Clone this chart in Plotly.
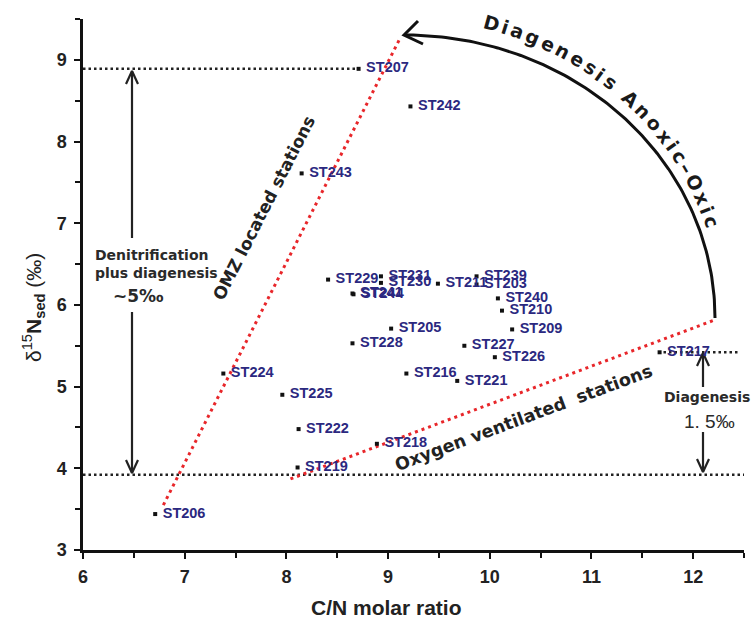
import numpy as np
import plotly.graph_objects as go

# ---------------- data ----------------
stations = ["ST207", "ST242", "ST243", "ST229", "ST231", "ST230", "ST241", "ST244",
            "ST211", "ST203", "ST239", "ST240", "ST210", "ST209", "ST205", "ST228",
            "ST227", "ST226", "ST216", "ST221", "ST224", "ST225", "ST222", "ST218",
            "ST219", "ST206", "ST217"]
cn_ratio = [8.71, 9.22, 8.15, 8.41, 8.93, 8.93, 8.65, 8.66,
            9.49, 9.87, 9.87, 10.08, 10.12, 10.22, 9.03, 8.65,
            9.75, 10.05, 9.18, 9.68, 7.38, 7.96, 8.12, 8.89,
            8.11, 6.71, 11.67]
d15n = [8.89, 8.43, 7.61, 6.31, 6.35, 6.27, 6.14, 6.13,
        6.26, 6.25, 6.35, 6.08, 5.93, 5.70, 5.71, 5.53,
        5.50, 5.36, 5.16, 5.07, 5.16, 4.90, 4.48, 4.30,
        4.01, 3.44, 5.42]

x_ticks = [6, 7, 8, 9, 10, 11, 12]
y_ticks = [3, 4, 5, 6, 7, 8, 9]

# reference levels
upper_level = 8.89
lower_level = 3.92
st217_level = 5.42
omz_line_x = [6.79, 9.12]
omz_line_y = [3.55, 9.27]
oxy_line_x = [8.04, 12.20]
oxy_line_y = [3.87, 5.81]

# ---------------- layout geometry ----------------
W, H = 755, 636
ML, MR, MT, MB = 83, 11, 19, 86
XR = [6, 12.5]
YR = [3, 9.5]
PW, PH = W - ML - MR, H - MT - MB


def px2x(px):
    return XR[0] + (px - ML) / PW * (XR[1] - XR[0])


def px2y(py):
    return YR[0] + (H - MB - py) / PH * (YR[1] - YR[0])


LABEL_COLOR = "#2b2880"
TXT = "#1a1a1a"
RED = "#e8262a"
DEJAVU = "DejaVu Sans"

fig = go.Figure()

# dotted reference lines
dot_black = dict(color="#222", width=2.5, dash="2.5px,3px")
fig.add_trace(go.Scatter(x=[XR[0], cn_ratio[0]], y=[upper_level, upper_level], mode="lines",
                         line=dot_black, hoverinfo="skip", showlegend=False))
fig.add_trace(go.Scatter(x=[XR[0], XR[1]], y=[lower_level, lower_level], mode="lines",
                         line=dot_black, hoverinfo="skip", showlegend=False))
fig.add_trace(go.Scatter(x=[px2x(658), px2x(740)], y=[st217_level, st217_level], mode="lines",
                         line=dot_black, hoverinfo="skip", showlegend=False))

# red dotted lines
dot_red = dict(color=RED, width=3, dash="3px,4px")
fig.add_trace(go.Scatter(x=omz_line_x, y=omz_line_y, mode="lines", line=dot_red,
                         hoverinfo="skip", showlegend=False))
fig.add_trace(go.Scatter(x=oxy_line_x, y=oxy_line_y, mode="lines", line=dot_red,
                         hoverinfo="skip", showlegend=False))

# ---------------- curved arrow ----------------
CX, CY, A, B = 405, 318, 310, 283
th = np.radians(np.linspace(0, 90, 120))
arc_px_x = CX + A * np.cos(th)
arc_px_y = CY - B * np.sin(th)
fig.add_trace(go.Scatter(x=px2x(arc_px_x), y=px2y(arc_px_y), mode="lines",
                         line=dict(color="#111", width=3), hoverinfo="skip", showlegend=False))
# arrow head chevron
chev_x = [418, 404, 423]
chev_y = [21, 35, 44]
fig.add_trace(go.Scatter(x=[px2x(v) for v in chev_x], y=[px2y(v) for v in chev_y], mode="lines",
                         line=dict(color="#111", width=3), hoverinfo="skip", showlegend=False))


def vert_arrow(xp, y_from, y_tip):
    d = 1 if y_tip > y_from else -1
    xs = [xp, xp, None, xp - 6, xp, xp + 6]
    ys = [y_from, y_tip, None, y_tip - d * 13, y_tip, y_tip - d * 13]
    fig.add_trace(go.Scatter(x=[px2x(v) if v is not None else None for v in xs],
                             y=[px2y(v) if v is not None else None for v in ys],
                             mode="lines", line=dict(color="#222", width=2.2),
                             hoverinfo="skip", showlegend=False))


vert_arrow(132, 238, 71)
vert_arrow(132, 312, 473)
vert_arrow(703, 387, 353)
vert_arrow(703, 432, 472)

# ---------------- data points ----------------
fig.add_trace(go.Scatter(x=cn_ratio, y=d15n, mode="markers+text", text=[" " + s for s in stations],
                         textposition="middle right",
                         marker=dict(symbol="square", size=4, color="#111"),
                         textfont=dict(family="Liberation Sans, Arial", size=14.5, color=LABEL_COLOR,
                                       weight="bold"),
                         cliponaxis=False, hoverinfo="skip", showlegend=False))

annotations = []

# ---------------- text along the arc ----------------
arc_text = "Diagenesis Anoxic\u2013Oxic"
wid = {"D": .83, "i": .343, "a": .675, "g": .716, "e": .678, "n": .712, "s": .595, " ": .348,
       "A": .774, "o": .687, "x": .663, "c": .593, "\u2013": .5, "O": .85}
ws = np.array([wid[c] + 0.2 for c in arc_text])
centers = np.cumsum(ws) - ws / 2
frac = (centers - centers[0]) / (centers[-1] - centers[0])

tt = np.radians(np.linspace(75, 19, 600))
off = 14 + 9 * (np.degrees(tt) - 19) / 56
ox = CX + (A + off) * np.cos(tt)
oy = CY - (B + off) * np.sin(tt)
seg = np.hypot(np.diff(ox), np.diff(oy))
cum = np.concatenate([[0], np.cumsum(seg)])
cum /= cum[-1]
for ch, f in zip(arc_text, frac):
    if ch == " ":
        continue
    i = int(np.clip(np.searchsorted(cum, f), 1, len(cum) - 1))
    ang = np.degrees(np.arctan2(oy[i] - oy[i - 1], ox[i] - ox[i - 1]))
    annotations.append(dict(x=px2x(ox[i]), y=px2y(oy[i]), xref="x", yref="y", text=ch,
                            showarrow=False, textangle=ang, xanchor="center", yanchor="middle",
                            font=dict(family=DEJAVU, size=19, color=TXT, weight="bold")))

# ---------------- other annotations ----------------
annotations += [
    dict(x=px2x(264), y=px2y(208), xref="x", yref="y", text="OMZ located stations",
         showarrow=False, textangle=-63,
         font=dict(family=DEJAVU, size=17, color="#222", weight="bold")),
    dict(x=px2x(523), y=px2y(418), xref="x", yref="y",
         text="Oxygen ventilated\u00a0 stations", showarrow=False, textangle=-20.5,
         font=dict(family=DEJAVU, size=17.5, color="#222", weight="bold")),
    dict(x=px2x(93), y=px2y(255), xref="x", yref="y", text="Denitrification",
         showarrow=False, xanchor="left",
         font=dict(family=DEJAVU, size=14, color="#2a2a2a", weight="bold")),
    dict(x=px2x(93), y=px2y(273), xref="x", yref="y", text="plus diagenesis",
         showarrow=False, xanchor="left",
         font=dict(family=DEJAVU, size=14, color="#2a2a2a", weight="bold")),
    dict(x=px2x(138), y=px2y(296), xref="x", yref="y", text="~5\u2030",
         showarrow=False,
         font=dict(family=DEJAVU, size=17, color="#2a2a2a", weight="bold")),
    dict(x=px2x(707), y=px2y(397), xref="x", yref="y", text="Diagenesis",
         showarrow=False,
         font=dict(family=DEJAVU, size=14, color="#2a2a2a", weight="bold")),
    dict(x=px2x(709), y=px2y(421), xref="x", yref="y", text="1. 5\u2030",
         showarrow=False,
         font=dict(family="Liberation Sans", size=19, color="#2a2a2a")),
    dict(x=(386 - ML) / PW, y=-(607 - (H - MB)) / PH, xref="paper", yref="paper",
         text="C/N molar ratio", showarrow=False, yanchor="middle",
         font=dict(family="Liberation Sans Narrow, Liberation Sans", size=21, color="#222",
                   weight="bold")),
    dict(x=-(ML - 33) / PW, y=(H - MB - 308) / PH, xref="paper", yref="paper",
         text="\u03b4<sup>15</sup><b>N</b><sub><b>sed</b></sub> (\u2030)", showarrow=False,
         textangle=-90, xanchor="center", yanchor="middle",
         font=dict(family="Liberation Sans", size=21, color="#222")),
]

tickfont = dict(family="Liberation Sans Narrow, Liberation Sans", size=18, color="#222",
                weight="bold")
fig.update_layout(
    width=W, height=H, margin=dict(l=ML, r=MR, t=MT, b=MB),
    paper_bgcolor="white", plot_bgcolor="white",
    annotations=annotations,
    xaxis=dict(range=XR, tickvals=x_ticks, ticktext=[str(v) for v in x_ticks],
               showgrid=False, zeroline=False, showline=True, linecolor="#111", linewidth=2.5,
               ticks="outside", ticklen=6, tickwidth=2, tickcolor="#111",
               minor=dict(dtick=0.5, ticks="outside", ticklen=5, tickwidth=2, tickcolor="#111"),
               tickfont=tickfont, ticklabelstandoff=3),
    yaxis=dict(range=YR, tickvals=y_ticks, ticktext=[str(v) for v in y_ticks],
               showgrid=False, zeroline=False, showline=True, linecolor="#111", linewidth=2.5,
               ticks="outside", ticklen=6, tickwidth=2, tickcolor="#111",
               minor=dict(dtick=0.5, ticks="outside", ticklen=5, tickwidth=2, tickcolor="#111"),
               tickfont=tickfont, ticklabelstandoff=4),
)

fig.write_html("out.html")
